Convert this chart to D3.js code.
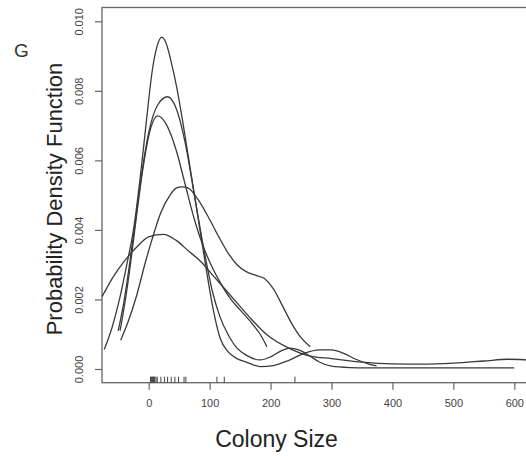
<!DOCTYPE html>
<html><head><meta charset="utf-8">
<script src="https://cdn.jsdelivr.net/npm/d3@7"></script>
<style>body{margin:0;background:#fff}svg{display:block}text{font-family:"Liberation Sans",Arial,sans-serif}</style>
</head><body><svg id="c" width="526" height="456"></svg>
<script>
const xTicks=[0,100,200,300,400,500,600];
const yTicks=[0,0.002,0.004,0.006,0.008,0.010];
const rugValues=[3,4,5,6,7,8,9,10,12,14,20,26,31,37,43,49,58,61,112,124,240];
const curveAx=[-73,-60,-48,-36,-25,-14,-4,6,14,21,28,36,46,56,66,76,86,96,106,117,130,145,160,183,205,230,255,280,300,320,340,360,374];
const curveAy=[.00056,.0012,.0020,.0030,.0040,.0055,.0071,.0086,.0093,.00954,.0094,.0089,.0081,.0071,.0060,.0049,.0038,.0027,.0017,.0009,.0005,.0003,.0002,.00007,.0001,.00025,.00045,.00055,.00055,.00045,.00028,.00015,.00009];
const curveBx=[-50,-40,-30,-20,-10,0,15,31,45,60,75,90,105,117,130,145,160,183,200,215,232,250,265,280,300,330,360,400,500,600];
const curveBy=[.0011,.0020,.0032,.0045,.0058,.0068,.0076,.00783,.0075,.0065,.0050,.0035,.0022,.0015,.0010,.0006,.0004,.00026,.00035,.0005,.0006,.00052,.00037,.0002,.00008,.00004,.00003,.00003,.00003,.00003];
const curveCx=[-47,-40,-30,-20,-10,0,15,30,45,60,75,90,105,117,135,150,170,183,194];
const curveCy=[.0011,.0018,.0030,.0044,.0057,.0067,.00728,.0070,.0063,.0053,.0043,.0035,.0029,.0025,.0020,.0017,.0013,.0010,.00064];
const curveDx=[-46,-35,-20,-5,5,20,35,45,54,65,80,100,115,128,145,160,175,190,205,220,235,250,265];
const curveDy=[.00083,.0013,.0021,.0031,.0037,.0045,.0050,.0052,.00524,.0052,.0049,.0043,.0038,.0034,.0030,.0028,.0027,.0026,.0023,.0018,.0013,.0009,.00064];
const curveEx=[-90,-76,-60,-40,-20,0,24,45,65,85,105,125,145,165,193,230,265,300,350,400,450,500,550,590,625,650];
const curveEy=[.0017,.0021,.0026,.0031,.0035,.0038,.00387,.0037,.0034,.0031,.0027,.0023,.0019,.0015,.0010,.0006,.00037,.0003,.0002,.00015,.00014,.00017,.00023,.00028,.00026,.00024];
const curves=[[curveAx,curveAy],[curveBx,curveBy],[curveCx,curveCy],[curveDx,curveDy],[curveEx,curveEy]];

const svg=d3.select("#c");
const L=102,T=7.5,R=560,B=382.7;
const x=d3.scaleLinear().domain([0,600]).range([148.7,514.3]);
const y=d3.scaleLinear().domain([0,0.010]).range([369,21.3]);
const axisCol="#666";

svg.append("defs").append("clipPath").attr("id","pc").append("rect")
  .attr("x",L).attr("y",T).attr("width",R-L).attr("height",B-T);

svg.append("rect").attr("x",L).attr("y",T).attr("width",R-L).attr("height",B-T)
  .attr("fill","none").attr("stroke",axisCol).attr("stroke-width",1.3);

const xa=svg.append("g").attr("transform",`translate(0,${B})`)
  .call(d3.axisBottom(x).tickValues(xTicks).tickSize(7).tickSizeOuter(0).tickFormat(d3.format("d")));
xa.select(".domain").remove();
xa.selectAll("line").attr("stroke",axisCol).attr("stroke-width",1.2);
xa.selectAll("text").attr("fill","#444").attr("font-size",11).attr("y",17);

const ya=svg.append("g").attr("transform",`translate(${L},0)`)
  .call(d3.axisLeft(y).tickValues(yTicks).tickSize(7).tickSizeOuter(0).tickFormat(d3.format(".3f")));
ya.select(".domain").remove();
ya.selectAll("line").attr("stroke",axisCol).attr("stroke-width",1.2);
ya.selectAll("text").attr("fill","#444").attr("font-size",11)
  .attr("transform","rotate(-90)").attr("x",0).attr("y",-19).attr("dy",0)
  .attr("text-anchor","middle");

const line=d3.line().x(d=>x(d[0])).y(d=>y(d[1])).curve(d3.curveMonotoneX);
const g=svg.append("g").attr("clip-path","url(#pc)");
curves.forEach(([xs,ys])=>{
  g.append("path").datum(xs.map((v,i)=>[v,ys[i]])).attr("d",line)
   .attr("fill","none").attr("stroke","#3a3a3a").attr("stroke-width",1.3);
});

svg.append("g").selectAll("line").data(rugValues).join("line")
  .attr("x1",d=>x(d)).attr("x2",d=>x(d)).attr("y1",B).attr("y2",B-6)
  .attr("stroke","#444").attr("stroke-width",1);

svg.append("text").attr("x",276.5).attr("y",446.5).attr("text-anchor","middle")
  .attr("font-size",23).attr("fill","#222").text("Colony Size");
svg.append("text").attr("transform","translate(61.5,199) rotate(-90)").attr("text-anchor","middle")
  .attr("font-size",22).attr("fill","#222").text("Probability Density Function");
svg.append("text").attr("x",14).attr("y",57).attr("font-size",19).attr("fill","#333").text("G");
</script></body></html>
